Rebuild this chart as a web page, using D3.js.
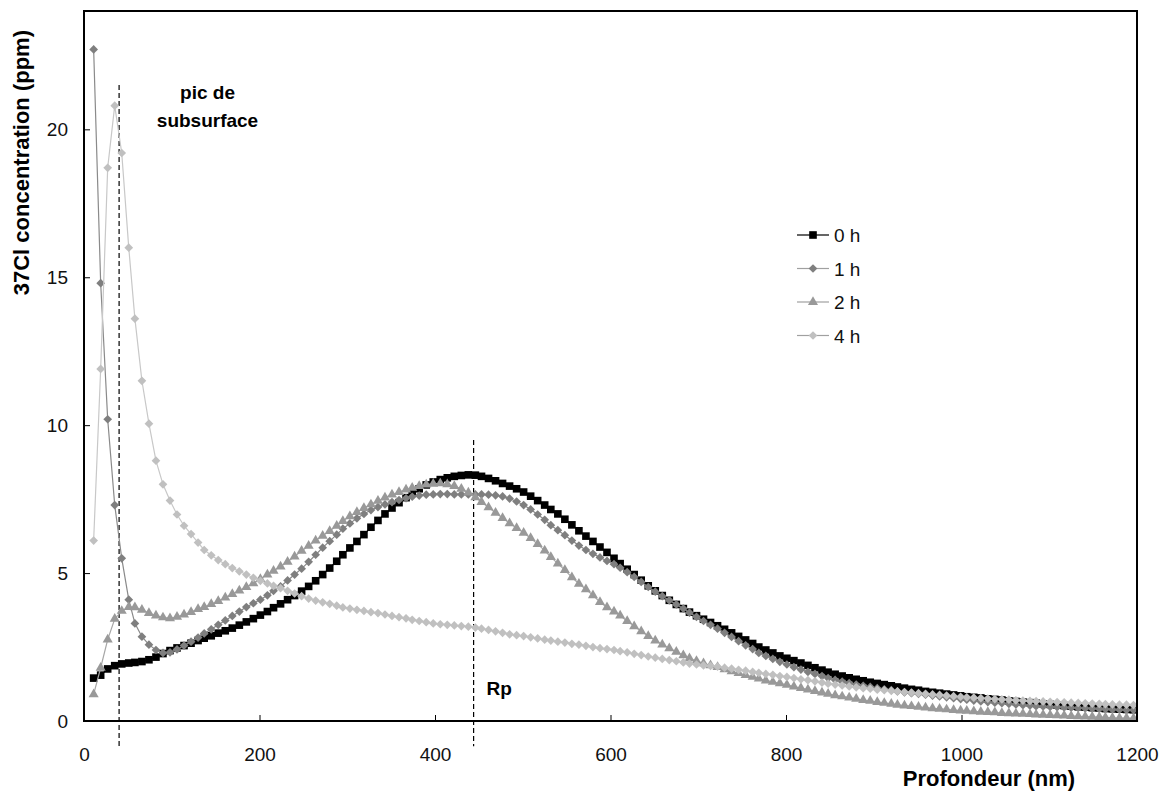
<!DOCTYPE html>
<html>
<head>
<meta charset="utf-8">
<script src="https://cdn.jsdelivr.net/npm/d3@7/dist/d3.min.js"></script>
<style>
  body { margin: 0; background: #fff; }
  text { font-family: Arial, "Liberation Sans", sans-serif; }
</style>
</head>
<body>
<svg class="profile" width="1169" height="798"></svg>
<script>
// depth (nm) of each measurement point
const depth = [
  11,19,27,35,43,51,58,66,74,82,
  90,98,106,114,122,130,137,145,153,161,
  169,177,185,193,201,209,216,224,232,240,
  248,256,264,272,280,288,295,303,311,319,
  327,335,343,351,359,367,374,382,390,398,
  406,414,422,430,438,446,453,461,469,477,
  485,493,501,509,517,525,532,540,548,556,
  564,572,580,588,596,604,611,619,627,635,
  643,651,659,667,675,683,690,698,706,714,
  722,730,738,746,754,762,769,777,785,793,
  801,809,817,825,833,841,848,856,864,872,
  880,888,896,904,912,920,927,935,943,951,
  959,967,975,983,991,999,1006,1014,1022,1030,
  1038,1046,1054,1062,1070,1078,1085,1093,1101,1109,
  1117,1125,1133,1141,1149,1157,1164,1172,1180,1188,
  1196
];

// 37Cl concentration (ppm) after each annealing time
const conc0h = [
  1.45,1.55,1.76,1.87,1.93,1.96,1.98,2.01,2.07,2.16,
  2.28,2.38,2.47,2.55,2.63,2.72,2.8,2.88,2.97,3.05,
  3.14,3.24,3.35,3.46,3.58,3.7,3.83,3.96,4.1,4.24,
  4.39,4.55,4.74,4.95,5.17,5.4,5.62,5.85,6.07,6.3,
  6.55,6.78,7.0,7.2,7.38,7.55,7.7,7.85,7.98,8.08,
  8.16,8.22,8.27,8.3,8.32,8.31,8.27,8.2,8.12,8.03,
  7.94,7.85,7.74,7.6,7.45,7.3,7.15,7.0,6.82,6.63,
  6.43,6.25,6.07,5.88,5.7,5.5,5.32,5.13,4.95,4.76,
  4.57,4.4,4.24,4.08,3.94,3.8,3.68,3.56,3.44,3.33,
  3.22,3.1,2.98,2.86,2.74,2.62,2.5,2.4,2.3,2.2,
  2.12,2.04,1.96,1.88,1.8,1.72,1.65,1.58,1.52,1.46,
  1.41,1.36,1.31,1.27,1.23,1.19,1.15,1.11,1.07,1.04,
  1.0,0.97,0.94,0.91,0.88,0.85,0.82,0.8,0.78,0.75,
  0.73,0.71,0.68,0.66,0.64,0.62,0.6,0.58,0.56,0.54,
  0.52,0.5,0.48,0.47,0.45,0.44,0.42,0.41,0.4,0.39,
  0.38
];
const conc1h = [
  22.7,14.8,10.2,7.3,5.5,4.1,3.3,2.85,2.58,2.4,
  2.3,2.32,2.42,2.55,2.68,2.82,2.96,3.1,3.25,3.4,
  3.55,3.7,3.85,3.98,4.1,4.25,4.4,4.55,4.75,4.95,
  5.15,5.38,5.62,5.86,6.08,6.3,6.5,6.68,6.85,7.0,
  7.13,7.23,7.32,7.4,7.47,7.53,7.58,7.62,7.65,7.66,
  7.67,7.67,7.66,7.66,7.66,7.66,7.66,7.65,7.63,7.59,
  7.52,7.42,7.3,7.15,6.98,6.8,6.62,6.45,6.28,6.1,
  5.93,5.78,5.65,5.53,5.41,5.3,5.18,5.03,4.87,4.7,
  4.53,4.37,4.22,4.08,3.94,3.8,3.66,3.52,3.38,3.25,
  3.12,2.98,2.84,2.7,2.56,2.43,2.3,2.2,2.1,2.0,
  1.91,1.82,1.74,1.66,1.59,1.52,1.45,1.39,1.33,1.28,
  1.23,1.19,1.15,1.11,1.07,1.04,1.0,0.97,0.94,0.92,
  0.89,0.86,0.83,0.8,0.77,0.74,0.72,0.69,0.66,0.64,
  0.62,0.6,0.58,0.56,0.54,0.52,0.5,0.49,0.48,0.47,
  0.46,0.45,0.44,0.43,0.42,0.41,0.4,0.39,0.38,0.37,
  0.37
];
const conc2h = [
  0.9,1.8,2.75,3.45,3.72,3.85,3.84,3.76,3.65,3.56,
  3.5,3.47,3.52,3.6,3.68,3.78,3.85,3.95,4.05,4.17,
  4.29,4.41,4.53,4.65,4.8,4.95,5.08,5.22,5.38,5.56,
  5.75,5.92,6.1,6.26,6.42,6.6,6.76,6.92,7.06,7.2,
  7.32,7.44,7.55,7.65,7.74,7.82,7.88,7.94,7.99,8.02,
  8.03,8.0,7.94,7.85,7.72,7.56,7.4,7.22,7.04,6.86,
  6.68,6.52,6.36,6.18,5.98,5.76,5.54,5.32,5.1,4.86,
  4.64,4.45,4.25,4.02,3.84,3.7,3.56,3.38,3.2,3.03,
  2.87,2.72,2.58,2.46,2.34,2.22,2.12,2.03,1.95,1.88,
  1.82,1.75,1.68,1.62,1.55,1.49,1.43,1.37,1.32,1.27,
  1.22,1.16,1.11,1.06,1.01,0.96,0.92,0.87,0.83,0.79,
  0.75,0.71,0.68,0.64,0.61,0.58,0.55,0.52,0.5,0.48,
  0.45,0.43,0.41,0.39,0.37,0.35,0.34,0.33,0.31,0.3,
  0.29,0.27,0.26,0.25,0.24,0.23,0.22,0.21,0.2,0.19,
  0.18,0.17,0.16,0.15,0.14,0.13,0.12,0.11,0.1,0.1,
  0.09
];
const conc4h = [
  6.1,11.9,18.7,20.8,19.2,16.0,13.6,11.5,10.05,8.8,
  8.0,7.45,6.98,6.6,6.32,6.03,5.78,5.6,5.44,5.3,
  5.17,5.06,4.95,4.84,4.74,4.65,4.57,4.49,4.4,4.31,
  4.22,4.14,4.07,4.01,3.96,3.9,3.84,3.8,3.76,3.72,
  3.68,3.65,3.6,3.55,3.51,3.47,3.42,3.38,3.34,3.3,
  3.27,3.25,3.23,3.21,3.19,3.16,3.12,3.08,3.03,2.98,
  2.93,2.9,2.87,2.83,2.79,2.75,2.72,2.68,2.65,2.61,
  2.58,2.54,2.5,2.46,2.43,2.4,2.36,2.32,2.27,2.23,
  2.18,2.14,2.1,2.06,2.02,1.98,1.94,1.91,1.88,1.86,
  1.84,1.8,1.77,1.73,1.7,1.66,1.63,1.59,1.56,1.52,
  1.49,1.45,1.41,1.38,1.34,1.3,1.26,1.23,1.2,1.17,
  1.14,1.11,1.09,1.06,1.04,1.02,1.0,0.98,0.96,0.94,
  0.92,0.9,0.88,0.86,0.84,0.82,0.8,0.79,0.77,0.76,
  0.74,0.73,0.72,0.7,0.69,0.68,0.67,0.66,0.65,0.64,
  0.63,0.62,0.61,0.6,0.59,0.58,0.57,0.56,0.55,0.55,
  0.54
];

const seriesNames = ["0 h", "1 h", "2 h", "4 h"];
const seriesValues = [conc0h, conc1h, conc2h, conc4h];

const xTicks = [0, 200, 400, 600, 800, 1000, 1200];
const yTicks = [0, 5, 10, 15, 20];

// dashed guides: subsurface peak and Rp (depth, top value)
const guides = [
  {depth: 40, top: 21.5, label: null},
  {depth: 444, top: 9.5, label: "Rp"}
];

// look of each series
const styles = [
  {symbol: d3.symbolSquare, size: 58, rotate: 0, fill: "#000000", line: "#000000"},
  {symbol: d3.symbolSquare, size: 38, rotate: 45, fill: "#7f7f7f", line: "#8a8a8a"},
  {symbol: d3.symbolTriangle, size: 44, rotate: 0, fill: "#999999", line: "#a6a6a6"},
  {symbol: d3.symbolSquare, size: 38, rotate: 45, fill: "#c0c0c0", line: "#c8c8c8"}
];

const svg = d3.select("svg.profile");
const margin = {top: 11, right: 32, bottom: 77, left: 84};
const width = +svg.attr("width") - margin.left - margin.right;
const height = +svg.attr("height") - margin.top - margin.bottom;

const x = d3.scaleLinear().domain([0, 1200]).range([0, width]);
const y = d3.scaleLinear().domain([0, 24]).range([height, 0]);

const g = svg.append("g")
    .attr("transform", `translate(${margin.left}, ${margin.top})`);

// axes with inside ticks
const xAxis = g.append("g")
    .attr("transform", `translate(0, ${height})`)
    .call(d3.axisBottom(x).tickValues(xTicks).tickSize(-6).tickPadding(27).tickFormat(d3.format("")));
const yAxis = g.append("g")
    .call(d3.axisLeft(y).tickValues(yTicks).tickSize(-6).tickPadding(16).tickFormat(d3.format("")));

[xAxis, yAxis].forEach(a => {
  a.select(".domain").remove();
  a.selectAll(".tick line").attr("stroke", "#000").attr("stroke-width", 1);
  a.selectAll(".tick text").attr("fill", "#111").style("font-size", "19px");
});

// dashed guides
guides.forEach(gd => {
  g.append("line")
      .attr("x1", x(gd.depth)).attr("x2", x(gd.depth))
      .attr("y1", y(gd.top)).attr("y2", y(-0.85))
      .attr("stroke", "#000")
      .attr("stroke-width", 1.2)
      .attr("stroke-dasharray", "5,3");
});

// series
const line = d3.line().x(d => x(d[0])).y(d => y(d[1]));

seriesValues.forEach((vals, i) => {
  const st = styles[i];
  const pts = depth.map((d, k) => [d, vals[k]]).filter(p => p[1] != null);
  g.append("path")
      .datum(pts)
      .attr("fill", "none")
      .attr("stroke", st.line)
      .attr("stroke-width", 1.2)
      .attr("d", line);
  const sym = d3.symbol().type(st.symbol).size(st.size);
  g.append("g").selectAll("path")
      .data(pts)
      .enter().append("path")
        .attr("d", sym)
        .attr("transform", d => `translate(${x(d[0])}, ${y(d[1])}) rotate(${st.rotate})`)
        .attr("fill", st.fill);
});

// frame
g.append("rect")
    .attr("x", 0).attr("y", 0)
    .attr("width", width).attr("height", height)
    .attr("fill", "none")
    .attr("stroke", "#000")
    .attr("stroke-width", 2);

// annotations
const note = g.append("text")
    .attr("text-anchor", "middle")
    .attr("font-weight", "bold")
    .style("font-size", "19px")
    .attr("fill", "#000");
note.append("tspan").attr("x", 207.5 - margin.left).attr("y", 99 - margin.top).text("pic de");
note.append("tspan").attr("x", 207.5 - margin.left).attr("y", 127 - margin.top).text("subsurface");

g.append("text")
    .attr("x", x(guides[1].depth) + 13)
    .attr("y", y(-0.85) - 51)
    .attr("font-weight", "bold")
    .style("font-size", "19px")
    .text(guides[1].label);

// axis titles
svg.append("text")
    .attr("transform", "rotate(-90)")
    .attr("x", -30)
    .attr("y", 29)
    .attr("text-anchor", "end")
    .attr("font-weight", "bold")
    .style("font-size", "22px")
    .text("37Cl concentration (ppm)");

svg.append("text")
    .attr("x", 989)
    .attr("y", 786)
    .attr("text-anchor", "middle")
    .attr("font-weight", "bold")
    .style("font-size", "22px")
    .text("Profondeur (nm)");

// legend
const legend = svg.append("g").attr("transform", "translate(797, 235)");
seriesNames.forEach((name, i) => {
  const st = styles[i];
  const row = legend.append("g").attr("transform", `translate(0, ${i * 33.5})`);
  row.append("line").attr("x1", 0).attr("x2", 32).attr("y1", 0).attr("y2", 0)
      .attr("stroke", i === 0 ? "#000" : "#a0a0a0").attr("stroke-width", 1.2);
  row.append("path")
      .attr("d", d3.symbol().type(st.symbol).size(st.size)())
      .attr("transform", `translate(16, 0) rotate(${st.rotate})`)
      .attr("fill", st.fill);
  row.append("text")
      .attr("x", 37).attr("y", 7)
      .style("font-size", "19px")
      .attr("fill", "#111")
      .text(name);
});
</script>
</body>
</html>
